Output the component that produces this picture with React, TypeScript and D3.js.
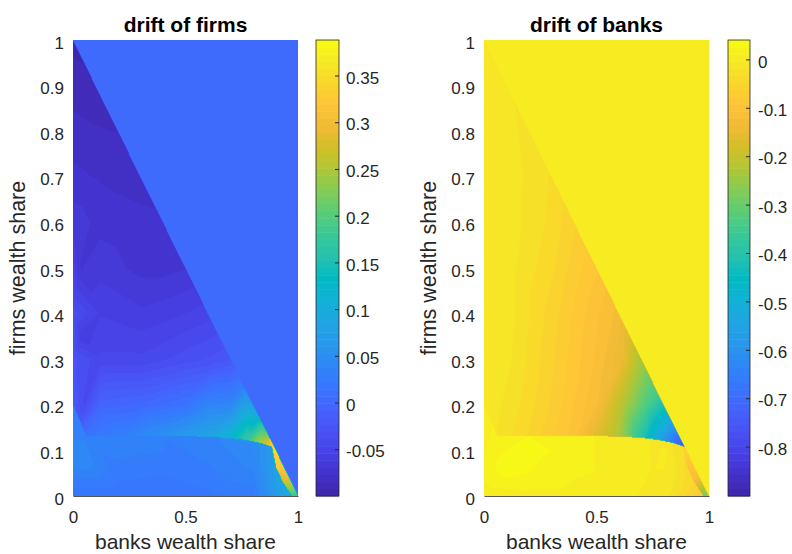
import React, { useEffect, useRef } from "react";
import * as d3 from "d3";

// [banks wealth share, firms wealth share, drift]
type Pt = [number, number, number];

// shape of the solution, shared by both panels
const kinkX = [0, 0.03, 0.06, 0.2, 0.4, 0.6, 0.7, 0.78, 0.84, 0.886];
const kinkY = [0.2, 0.165, 0.131, 0.132, 0.132, 0.13, 0.127, 0.122, 0.116, 0.108];
const wedgeY = [0.108, 0.06, 0.03, 0];
const wedgeX = [0.886, 0.905, 0.935, 0.975];

const shareTicks = [0, 0.1, 0.2, 0.3, 0.4, 0.5, 0.6, 0.7, 0.8, 0.9, 1];
const banksShareTicks = [0, 0.5, 1];

// ---- drift of firms ----
const firmsOutside = 0;
const firmsUpper: Pt[] = [
  [0, 1, -0.095], [0.1, 0.9, -0.09], [0.2, 0.8, -0.085], [0.3, 0.7, -0.08],
  [0.4, 0.6, -0.076], [0.5, 0.5, -0.07], [0.6, 0.4, -0.05], [0.7, 0.3, -0.025],
  [0.76, 0.24, 0.03], [0.82, 0.18, 0.1], [0.86, 0.14, 0.2],
  [0, 0.9, -0.088], [0, 0.8, -0.082], [0, 0.7, -0.075], [0, 0.6, -0.065],
  [0, 0.5, -0.05], [0, 0.4, -0.035], [0, 0.3, -0.028],
  [0.05, 0.2, -0.04], [0.04, 0.35, -0.06], [0.035, 0.5, -0.07],
  [0.12, 0.2, -0.005], [0.3, 0.2, 0.0], [0.5, 0.2, 0.015], [0.7, 0.2, 0.04],
  [0.12, 0.3, -0.045], [0.3, 0.3, -0.045], [0.5, 0.3, -0.035], [0.62, 0.3, -0.03],
  [0.12, 0.4, -0.055], [0.3, 0.4, -0.06], [0.48, 0.4, -0.055],
  [0.12, 0.5, -0.065], [0.3, 0.5, -0.072], [0.42, 0.5, -0.072],
  [0.12, 0.6, -0.072], [0.28, 0.6, -0.075],
  [0.12, 0.7, -0.078], [0.1, 0.8, -0.084],
];
const firmsKinkAbove = [-0.02, -0.025, 0.015, 0.03, 0.055, 0.085, 0.12, 0.18, 0.26, 0.33];
const firmsKinkBelow = [0.035, 0.035, 0.035, 0.03, 0.03, 0.035, 0.04, 0.045, 0.055, 0.07];
const firmsLower: Pt[] = [
  [0, 0, 0.015], [0.2, 0, 0.015], [0.4, 0, 0.015], [0.6, 0, 0.02], [0.8, 0, 0.025],
  [0, 0.05, 0.035], [0, 0.1, 0.04], [0, 0.15, 0.035],
  [0.03, 0.08, 0.045], [0.2, 0.1, 0.032], [0.4, 0.1, 0.03], [0.6, 0.1, 0.033], [0.8, 0.1, 0.045],
  [0.2, 0.05, 0.025], [0.5, 0.05, 0.025], [0.75, 0.05, 0.035], [0.86, 0.05, 0.06], [0.88, 0.1, 0.065],
];
const firmsWedgeLeft = [0.07, 0.08, 0.09, 0.1];
const firmsWedgeRight = [0.35, 0.32, 0.27, 0.18];
const firmsWedge: Pt[] = [
  [0.9, 0.1, 0.35], [0.93, 0.07, 0.33], [0.96, 0.04, 0.3], [0.98, 0.02, 0.24], [1, 0, 0.16],
];
const firmsRange = [-0.1, 0.388];
const firmsTicks = [-0.05, 0, 0.05, 0.1, 0.15, 0.2, 0.25, 0.3, 0.35];

// ---- drift of banks ----
const banksOutside = 0;
const banksUpper: Pt[] = [
  [0, 1, -0.008], [0.1, 0.9, -0.015], [0.2, 0.8, -0.025], [0.3, 0.7, -0.035],
  [0.4, 0.6, -0.06], [0.5, 0.5, -0.09], [0.58, 0.42, -0.12], [0.64, 0.36, -0.16],
  [0.715, 0.285, -0.26], [0.775, 0.225, -0.35], [0.82, 0.18, -0.48], [0.86, 0.14, -0.65],
  [0, 0.9, -0.008], [0, 0.7, -0.01], [0, 0.5, -0.01], [0, 0.3, -0.012],
  [0.05, 0.2, -0.015], [0.04, 0.35, -0.015], [0.035, 0.5, -0.015],
  [0.12, 0.2, -0.025], [0.3, 0.2, -0.065], [0.5, 0.2, -0.12], [0.62, 0.2, -0.22], [0.72, 0.2, -0.33],
  [0.12, 0.3, -0.018], [0.3, 0.3, -0.06], [0.5, 0.3, -0.11], [0.62, 0.3, -0.15],
  [0.12, 0.4, -0.015], [0.3, 0.4, -0.055], [0.48, 0.4, -0.1],
  [0.12, 0.5, -0.015], [0.3, 0.5, -0.045], [0.42, 0.5, -0.075],
  [0.12, 0.6, -0.012], [0.28, 0.6, -0.035],
  [0.12, 0.7, -0.012], [0.1, 0.8, -0.012],
];
const banksKinkAbove = [-0.012, -0.015, -0.02, -0.05, -0.1, -0.23, -0.4, -0.55, -0.68, -0.78];
const banksKinkBelow = [0.005, 0.01, 0.015, 0.025, 0.015, 0.005, 0.0, -0.01, -0.02, -0.04];
const banksLower: Pt[] = [
  [0, 0, 0.0], [0.2, 0, 0.005], [0.4, 0, 0.005], [0.6, 0, 0.0], [0.8, 0, -0.01],
  [0, 0.05, 0.015], [0, 0.1, 0.01], [0, 0.15, 0.005],
  [0.03, 0.08, 0.02], [0.2, 0.1, 0.03], [0.4, 0.1, 0.02], [0.6, 0.1, 0.01], [0.8, 0.1, 0.0],
  [0.1, 0.06, 0.035], [0.2, 0.05, 0.025], [0.5, 0.05, 0.01], [0.75, 0.05, -0.005],
  [0.86, 0.05, -0.02], [0.88, 0.1, -0.03],
];
const banksWedgeLeft = [-0.03, -0.04, -0.05, -0.08];
const banksWedgeRight = [-0.06, -0.1, -0.13, -0.3];
const banksWedge: Pt[] = [
  [0.9, 0.1, -0.05], [0.93, 0.07, -0.09], [0.96, 0.04, -0.12], [0.98, 0.02, -0.2], [1, 0, -0.28],
];
const banksRange = [-0.902, 0.04];
const banksTicks = [-0.8, -0.7, -0.6, -0.5, -0.4, -0.3, -0.2, -0.1, 0];

// MATLAB parula, every third entry of the 64-colour table
const parulaStops = [
  "#3e26a8", "#4332cb", "#4741e5", "#4852f4", "#4563fd", "#3875fe", "#2e87f7", "#2797eb",
  "#20a5e3", "#12b1d6", "#02bac3", "#24c1ae", "#37c897", "#57cc7a", "#81cc59", "#abc739",
  "#d1bf27", "#f0ba36", "#fec338", "#fad62d", "#f5e924", "#f9fb15",
];
const parula = d3
  .scaleLinear<string>()
  .domain(parulaStops.map((_, i) => i / (parulaStops.length - 1)))
  .range(parulaStops)
  .interpolate(d3.interpolateRgb)
  .clamp(true);

const TOP = 40;
const BOTTOM = 496;
const NX = 225;
const NY = 456;
const LEVELS = 64;
const FONT = "'Liberation Sans', Arial, Helvetica, sans-serif";
const INK = "#262626";

// linear shading inside one region of the triangle (like shading interp)
function fillRegion(pts: Pt[], id: number, region: Uint8Array, out: Float64Array) {
  const del = d3.Delaunay.from(pts, (p) => p[0], (p) => p[1]);
  const tri = del.triangles;
  const done = new Uint8Array(NX * NY);
  for (let t = 0; t < tri.length; t += 3) {
    const a = pts[tri[t]], b = pts[tri[t + 1]], c = pts[tri[t + 2]];
    const det = (b[1] - c[1]) * (a[0] - c[0]) + (c[0] - b[0]) * (a[1] - c[1]);
    if (Math.abs(det) < 1e-12) continue;
    const i0 = Math.max(0, Math.floor(Math.min(a[0], b[0], c[0]) * NX - 1));
    const i1 = Math.min(NX - 1, Math.ceil(Math.max(a[0], b[0], c[0]) * NX));
    const j0 = Math.max(0, Math.floor((1 - Math.max(a[1], b[1], c[1])) * NY - 1));
    const j1 = Math.min(NY - 1, Math.ceil((1 - Math.min(a[1], b[1], c[1])) * NY));
    for (let j = j0; j <= j1; j++) {
      const y = 1 - (j + 0.5) / NY;
      for (let i = i0; i <= i1; i++) {
        const idx = j * NX + i;
        if (region[idx] !== id || done[idx]) continue;
        const x = (i + 0.5) / NX;
        const l1 = ((b[1] - c[1]) * (x - c[0]) + (c[0] - b[0]) * (y - c[1])) / det;
        const l2 = ((c[1] - a[1]) * (x - c[0]) + (a[0] - c[0]) * (y - c[1])) / det;
        const l3 = 1 - l1 - l2;
        if (l1 < -1e-9 || l2 < -1e-9 || l3 < -1e-9) continue;
        out[idx] = l1 * a[2] + l2 * b[2] + l3 * c[2];
        done[idx] = 1;
      }
    }
  }
  for (let idx = 0; idx < NX * NY; idx++) {
    if (region[idx] !== id || done[idx]) continue;
    const x = ((idx % NX) + 0.5) / NX;
    const y = 1 - (Math.floor(idx / NX) + 0.5) / NY;
    out[idx] = pts[del.find(x, y)][2];
  }
}

function buildField(p: any) {
  const kinkAt = d3.scaleLinear().domain(kinkX).range(kinkY).clamp(true);
  const wedgeAt = d3.scaleLinear().domain(wedgeY).range(wedgeX).clamp(true);
  const region = new Uint8Array(NX * NY);
  const out = new Float64Array(NX * NY).fill(p.outside);
  for (let j = 0; j < NY; j++) {
    const y = 1 - (j + 0.5) / NY;
    for (let i = 0; i < NX; i++) {
      const x = (i + 0.5) / NX;
      const idx = j * NX + i;
      if (x + y > 1) region[idx] = 0;
      else if (y >= kinkAt(x)) region[idx] = 1;
      else if (x >= wedgeAt(y)) region[idx] = 3;
      else region[idx] = 2;
    }
  }
  const upper: Pt[] = [...p.upper, ...kinkX.map((x, k) => [x, kinkY[k], p.kinkAbove[k]] as Pt)];
  const lower: Pt[] = [
    ...p.lower,
    ...kinkX.map((x, k) => [x, kinkY[k], p.kinkBelow[k]] as Pt),
    ...wedgeX.slice(1).map((x, k) => [x, wedgeY[k + 1], p.wedgeLeft[k + 1]] as Pt),
  ];
  const wedge: Pt[] = [...p.wedge, ...wedgeX.map((x, k) => [x, wedgeY[k], p.wedgeRight[k]] as Pt)];
  fillRegion(upper, 1, region, out);
  fillRegion(lower, 2, region, out);
  fillRegion(wedge, 3, region, out);
  return Array.from(out);
}

const panels = [
  {
    title: "drift of firms", left: 73, right: 298, barLeft: 316, barRight: 339, barPad: 7,
    outside: firmsOutside, upper: firmsUpper, kinkAbove: firmsKinkAbove, kinkBelow: firmsKinkBelow,
    lower: firmsLower, wedgeLeft: firmsWedgeLeft, wedgeRight: firmsWedgeRight, wedge: firmsWedge,
    range: firmsRange, ticks: firmsTicks,
  },
  {
    title: "drift of banks", left: 484, right: 709, barLeft: 728, barRight: 750, barPad: 8,
    outside: banksOutside, upper: banksUpper, kinkAbove: banksKinkAbove, kinkBelow: banksKinkBelow,
    lower: banksLower, wedgeLeft: banksWedgeLeft, wedgeRight: banksWedgeRight, wedge: banksWedge,
    range: banksRange, ticks: banksTicks,
  },
];

const DriftMaps = () => {
  const svgRef = useRef<SVGSVGElement>(null);

  useEffect(() => {
    const svg = d3.select(svgRef.current);
    svg.selectAll("*").remove();

    panels.forEach((p, n) => {
      const [lo, hi] = p.range;
      const x = d3.scaleLinear([0, 1], [p.left, p.right]);
      const y = d3.scaleLinear([0, 1], [BOTTOM, TOP]);
      const gx = d3.scaleLinear([0, NX], [p.left, p.right]);
      const gy = d3.scaleLinear([0, NY], [TOP, BOTTOM]);
      const c = d3.scaleLinear([lo, hi], [BOTTOM, TOP]);
      const levelAt = (k: number) => lo + ((hi - lo) * k) / LEVELS;

      const g = svg.append("g");

      g.append("clipPath")
        .attr("id", `plot-clip-${n}`)
        .append("rect")
        .attr("x", p.left)
        .attr("y", TOP)
        .attr("width", p.right - p.left)
        .attr("height", BOTTOM - TOP);

      // filled contour bands
      const values = buildField(p);
      const bands = d3
        .contours()
        .size([NX, NY])
        .thresholds(d3.range(LEVELS).map(levelAt))(values);
      const path = d3.geoPath(
        d3.geoTransform({
          point(px: number, py: number) {
            this.stream.point(gx(px), gy(py));
          },
        })
      );
      g.append("g")
        .attr("clip-path", `url(#plot-clip-${n})`)
        .selectAll("path")
        .data(bands)
        .join("path")
        .attr("d", path as any)
        .attr("fill", (_, k) => parula((k + 0.5) / LEVELS));

      // axes
      const ya = g
        .append("g")
        .attr("transform", `translate(${p.left},0)`)
        .call(d3.axisLeft(y).tickValues(shareTicks).tickFormat((d) => String(d)).tickSize(0).tickPadding(9));
      ya.select(".domain").remove();

      const xa = g
        .append("g")
        .attr("transform", `translate(0,${BOTTOM})`)
        .call(d3.axisBottom(x).tickValues(banksShareTicks).tickFormat((d) => String(d)).tickSize(0).tickPadding(15));
      xa.select(".domain").attr("stroke", "#555").attr("stroke-width", 1);

      // colorbar
      g.append("g")
        .selectAll("rect")
        .data(d3.range(LEVELS))
        .join("rect")
        .attr("x", p.barLeft)
        .attr("width", p.barRight - p.barLeft)
        .attr("y", (k) => c(levelAt(k + 1)))
        .attr("height", (k) => c(levelAt(k)) - c(levelAt(k + 1)) + 0.5)
        .attr("fill", (k) => parula((k + 0.5) / LEVELS));
      g.append("rect")
        .attr("x", p.barLeft)
        .attr("y", TOP)
        .attr("width", p.barRight - p.barLeft)
        .attr("height", BOTTOM - TOP)
        .attr("fill", "none")
        .attr("stroke", INK)
        .attr("stroke-width", 0.8);
      const ca = g
        .append("g")
        .attr("transform", `translate(${p.barRight},0)`)
        .call(
          d3.axisRight(c).tickValues(p.ticks).tickFormat((d) => String(d))
            .tickSizeInner(-4).tickSizeOuter(0).tickPadding(p.barPad)
        );
      ca.select(".domain").remove();

      [ya, xa, ca].forEach((a) =>
        a.attr("font-family", FONT).attr("font-size", 17).attr("color", INK)
      );
      ya.selectAll("text").attr("dy", "0.47em");
      ca.selectAll("text").attr("dy", "0.45em");

      // labels
      g.append("text")
        .attr("x", (p.left + p.right) / 2)
        .attr("y", 32)
        .attr("text-anchor", "middle")
        .attr("font-family", FONT)
        .attr("font-size", 21)
        .attr("font-weight", "bold")
        .attr("fill", "#000")
        .text(p.title);
      g.append("text")
        .attr("x", (p.left + p.right) / 2)
        .attr("y", 549)
        .attr("text-anchor", "middle")
        .attr("font-family", FONT)
        .attr("font-size", 21)
        .attr("fill", INK)
        .text("banks wealth share");
      g.append("text")
        .attr("transform", `translate(${p.left - 48},${(TOP + BOTTOM) / 2}) rotate(-90)`)
        .attr("text-anchor", "middle")
        .attr("font-family", FONT)
        .attr("font-size", 21.5)
        .attr("fill", INK)
        .text("firms wealth share");
    });
  }, []);

  return (
    <svg
      ref={svgRef}
      width={792}
      height={554}
      style={{ position: "absolute", left: 0, top: 0, display: "block", background: "#fff" }}
    ></svg>
  );
};

export default function App() {
  return <DriftMaps />;
}
